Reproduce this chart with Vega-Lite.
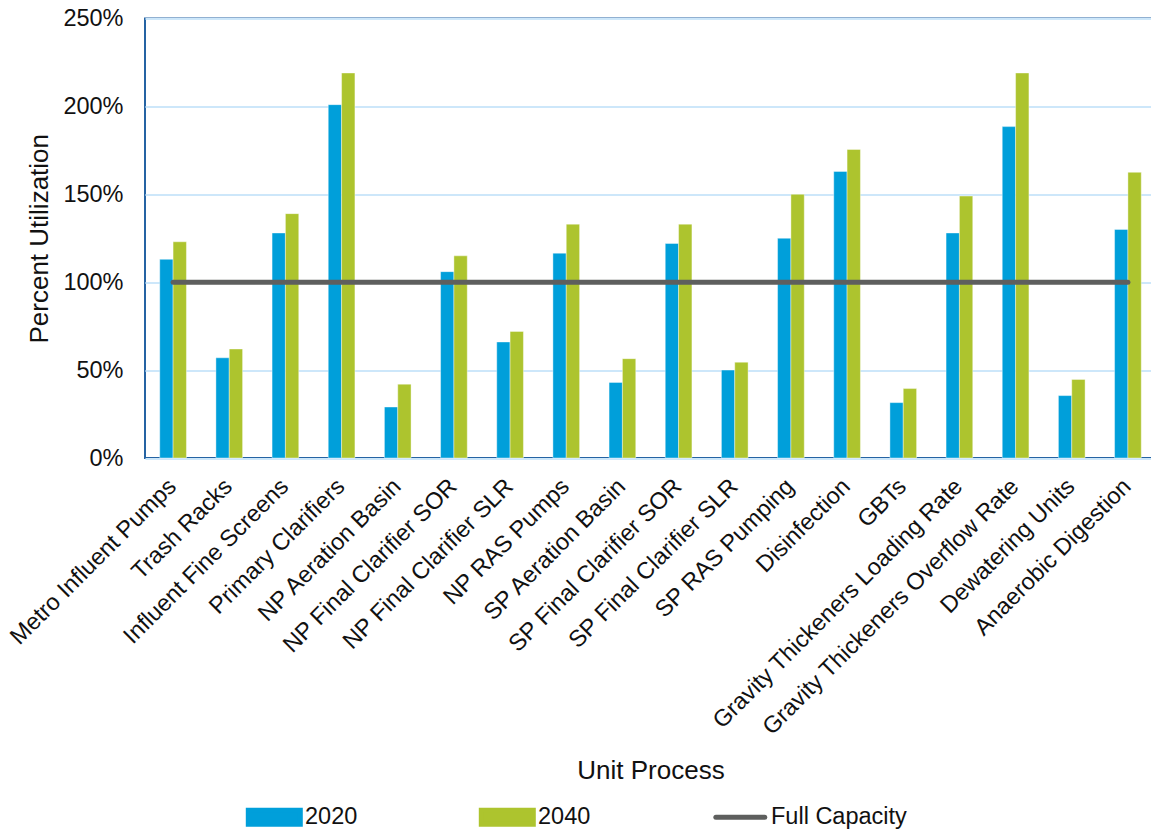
{
  "$schema": "https://vega.github.io/schema/vega-lite/v6.json",
  "autosize": "none",
  "width": 1011,
  "height": 439.5,
  "padding": {"left": 145, "top": 18.5, "right": 0, "bottom": 373},
  "background": "white",
  "config": {
    "font": "Liberation Sans",
    "view": {"stroke": "#2563a3", "strokeWidth": 2},
    "axis": {
      "labelFont": "Liberation Sans",
      "titleFont": "Liberation Sans",
      "labelColor": "#111111",
      "titleColor": "#111111",
      "titleFontWeight": "normal",
      "labelFontSize": 23.5,
      "titleFontSize": 26,
      "labelLimit": 0
    }
  },
  "datasets": {
    "utilization": [
      {"process": "Metro Influent Pumps", "year": "2020", "value": 1.13},
      {"process": "Metro Influent Pumps", "year": "2040", "value": 1.23},
      {"process": "Trash Racks", "year": "2020", "value": 0.57},
      {"process": "Trash Racks", "year": "2040", "value": 0.62},
      {"process": "Influent Fine Screens", "year": "2020", "value": 1.28},
      {"process": "Influent Fine Screens", "year": "2040", "value": 1.39},
      {"process": "Primary Clarifiers", "year": "2020", "value": 2.01},
      {"process": "Primary Clarifiers", "year": "2040", "value": 2.19},
      {"process": "NP Aeration Basin", "year": "2020", "value": 0.29},
      {"process": "NP Aeration Basin", "year": "2040", "value": 0.42},
      {"process": "NP Final Clarifier SOR", "year": "2020", "value": 1.06},
      {"process": "NP Final Clarifier SOR", "year": "2040", "value": 1.15},
      {"process": "NP Final Clarifier SLR", "year": "2020", "value": 0.66},
      {"process": "NP Final Clarifier SLR", "year": "2040", "value": 0.72},
      {"process": "NP RAS Pumps", "year": "2020", "value": 1.165},
      {"process": "NP RAS Pumps", "year": "2040", "value": 1.33},
      {"process": "SP Aeration Basin", "year": "2020", "value": 0.43},
      {"process": "SP Aeration Basin", "year": "2040", "value": 0.565},
      {"process": "SP Final Clarifier SOR", "year": "2020", "value": 1.22},
      {"process": "SP Final Clarifier SOR", "year": "2040", "value": 1.33},
      {"process": "SP Final Clarifier SLR", "year": "2020", "value": 0.50},
      {"process": "SP Final Clarifier SLR", "year": "2040", "value": 0.545},
      {"process": "SP RAS Pumping", "year": "2020", "value": 1.25},
      {"process": "SP RAS Pumping", "year": "2040", "value": 1.50},
      {"process": "Disinfection", "year": "2020", "value": 1.63},
      {"process": "Disinfection", "year": "2040", "value": 1.755},
      {"process": "GBTs", "year": "2020", "value": 0.315},
      {"process": "GBTs", "year": "2040", "value": 0.395},
      {"process": "Gravity Thickeners Loading Rate", "year": "2020", "value": 1.28},
      {"process": "Gravity Thickeners Loading Rate", "year": "2040", "value": 1.49},
      {"process": "Gravity Thickeners Overflow Rate", "year": "2020", "value": 1.885},
      {"process": "Gravity Thickeners Overflow Rate", "year": "2040", "value": 2.19},
      {"process": "Dewatering Units", "year": "2020", "value": 0.355},
      {"process": "Dewatering Units", "year": "2040", "value": 0.447},
      {"process": "Anaerobic Digestion", "year": "2020", "value": 1.30},
      {"process": "Anaerobic Digestion", "year": "2040", "value": 1.625}
    ],
    "capacity": [
      {"process": "Metro Influent Pumps", "value": 1},
      {"process": "Trash Racks", "value": 1},
      {"process": "Influent Fine Screens", "value": 1},
      {"process": "Primary Clarifiers", "value": 1},
      {"process": "NP Aeration Basin", "value": 1},
      {"process": "NP Final Clarifier SOR", "value": 1},
      {"process": "NP Final Clarifier SLR", "value": 1},
      {"process": "NP RAS Pumps", "value": 1},
      {"process": "SP Aeration Basin", "value": 1},
      {"process": "SP Final Clarifier SOR", "value": 1},
      {"process": "SP Final Clarifier SLR", "value": 1},
      {"process": "SP RAS Pumping", "value": 1},
      {"process": "Disinfection", "value": 1},
      {"process": "GBTs", "value": 1},
      {"process": "Gravity Thickeners Loading Rate", "value": 1},
      {"process": "Gravity Thickeners Overflow Rate", "value": 1},
      {"process": "Dewatering Units", "value": 1},
      {"process": "Anaerobic Digestion", "value": 1}
    ]
  },
  "encoding": {
    "x": {
      "field": "process",
      "type": "nominal",
      "sort": null,
      "scale": {"paddingInner": 0.525, "paddingOuter": 0.2625},
      "axis": {
        "title": "Unit Process",
        "labelAngle": -45,
        "labelPadding": 16,
        "labelOffset": -9,
        "titleBaseline": "alphabetic",
        "titleY": 320,
        "ticks": false,
        "domain": false,
        "grid": false
      }
    },
    "y": {
      "field": "value",
      "type": "quantitative",
      "scale": {"domain": [0, 2.5], "nice": false},
      "axis": {
        "title": "Percent Utilization",
        "format": ".0%",
        "values": [0, 0.5, 1, 1.5, 2, 2.5],
        "ticks": false,
        "domain": false,
        "grid": true,
        "gridColor": "#cde7fa",
        "gridWidth": 2,
        "labelPadding": 22,
        "titlePadding": 10
      }
    },
    "color": {
      "scale": {
        "domain": ["2020", "2040", "Full Capacity"],
        "range": ["#009fda", "#adc42e", "#5e5f5e"]
      },
      "legend": {
        "title": null,
        "orient": "none",
        "legendX": 100.8,
        "legendY": 770,
        "direction": "horizontal",
        "symbolType": "M-1,-0.27H1V0.27H-1Z",
        "symbolSize": 2704,
        "labelOffset": 2.2,
        "columnPadding": 113,
        "labelFont": "Liberation Sans",
        "labelFontSize": 23.5,
        "labelColor": "#111111",
        "encode": {
          "symbols": {
            "update": {
              "shape": {"signal": "datum.value === 'Full Capacity' ? 'M-0.94,0H0.94M-1,-0.27M1,0.27' : 'M-1,-0.27H1V0.27H-1Z'"},
              "fill": {"signal": "datum.value === 'Full Capacity' ? 'transparent' : (datum.value === '2020' ? '#009fda' : '#adc42e')"},
              "stroke": {"signal": "datum.value === 'Full Capacity' ? '#5e5f5e' : 'transparent'"},
              "strokeWidth": {"value": 5},
              "strokeCap": {"value": "round"},
              "opacity": {"value": 1}
            }
          }
        }
      }
    }
  },
  "layer": [
    {
      "data": {"name": "utilization"},
      "mark": {"type": "bar", "stroke": "white", "strokeWidth": 0.8, "strokeOpacity": 0.5},
      "encoding": {
        "xOffset": {"field": "year", "type": "nominal"},
        "color": {"field": "year", "type": "nominal"}
      }
    },
    {
      "data": {"name": "capacity"},
      "mark": {"type": "line", "strokeWidth": 5, "strokeCap": "round"},
      "encoding": {
        "color": {"datum": "Full Capacity"}
      }
    }
  ]
}
